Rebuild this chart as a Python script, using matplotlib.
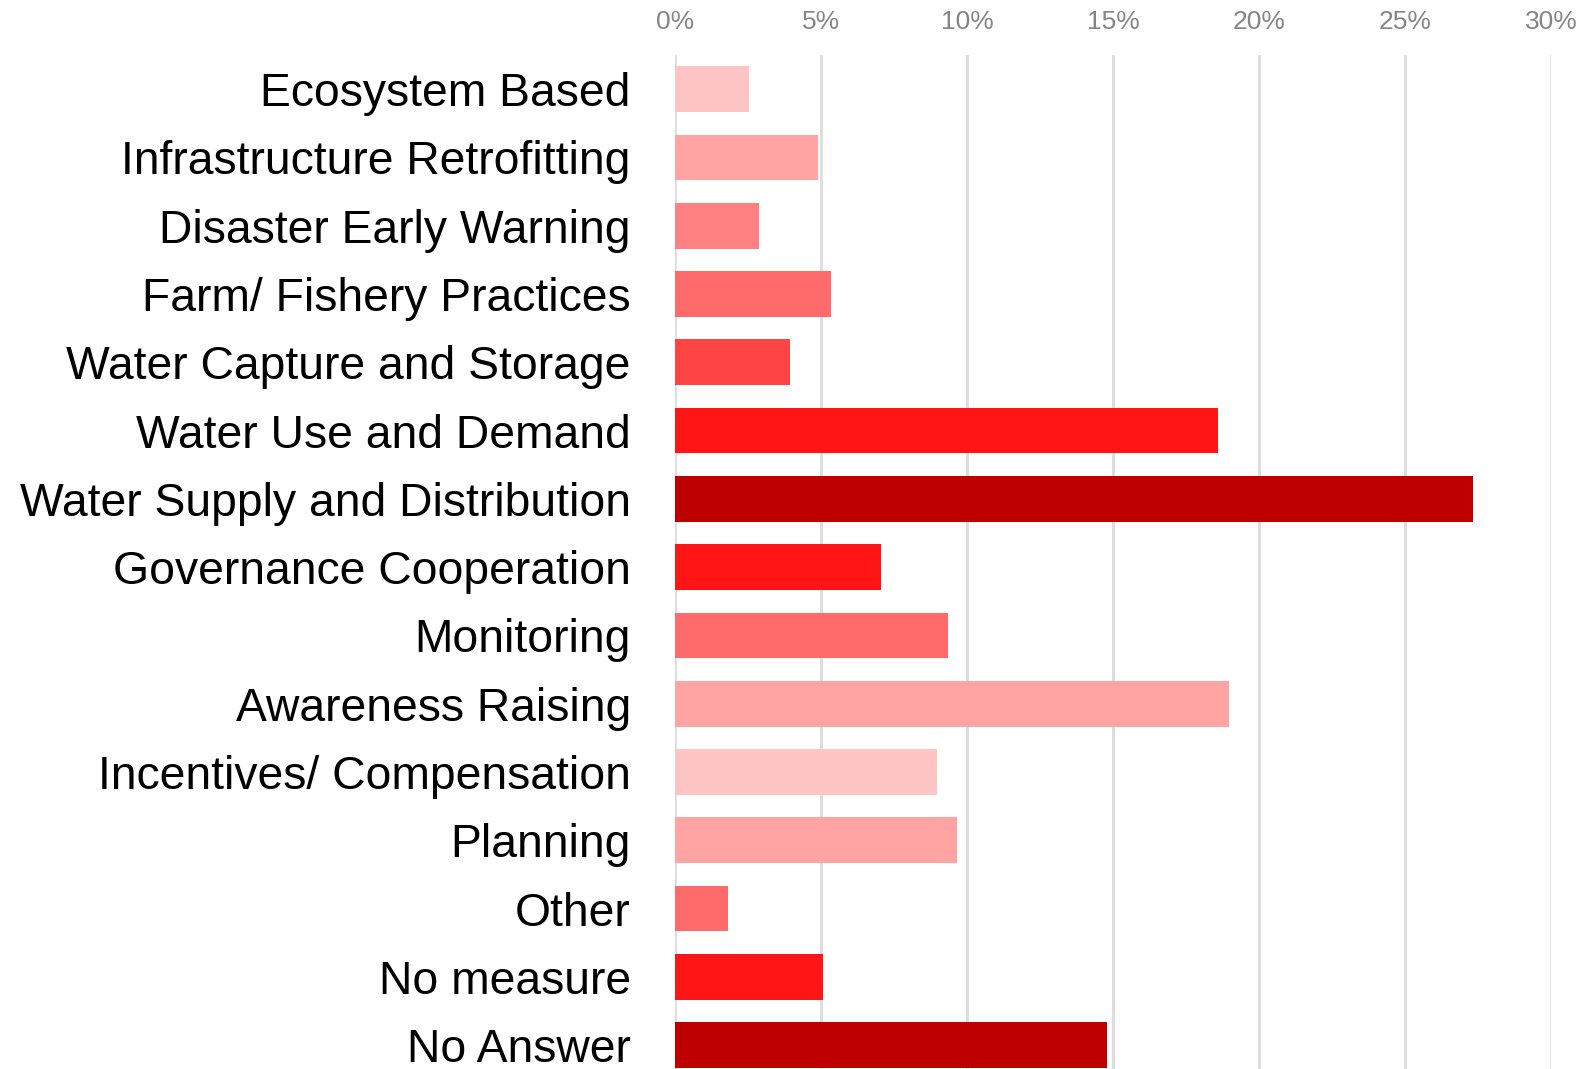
import matplotlib
matplotlib.use("Agg")
import matplotlib.pyplot as plt
from matplotlib.ticker import FuncFormatter

categories = ["Ecosystem Based", "Infrastructure Retrofitting", "Disaster Early Warning",
              "Farm/ Fishery Practices", "Water Capture and Storage", "Water Use and Demand",
              "Water Supply and Distribution", "Governance Cooperation", "Monitoring",
              "Awareness Raising", "Incentives/ Compensation", "Planning", "Other",
              "No measure", "No Answer"]
values = [2.52, 4.89, 2.87, 5.33, 3.93, 18.58, 27.33, 7.05, 9.34, 18.96, 8.96, 9.65, 1.80, 5.05, 14.79]
colors = ["#FFC5C5", "#FFA3A3", "#FF8080", "#FF6B6B", "#FF4444", "#FF1515", "#BE0000",
          "#FF1515", "#FF6B6B", "#FFA3A3", "#FFC5C5", "#FFA3A3", "#FF6B6B", "#FF1515", "#BE0000"]
xticks = [0, 5, 10, 15, 20, 25, 30]

plt.rcParams["font.family"] = ["Liberation Sans", "DejaVu Sans"]

fig = plt.figure(figsize=(15.9, 10.69), dpi=100)
ax = fig.add_axes([675.3 / 1590, 0, (1551 - 675.3) / 1590, 1 - 55 / 1069])
ypos = list(range(len(categories)))
ax.barh(ypos, values, height=0.67, color=colors, zorder=3)
ax.set_xlim(0, 30)
ax.set_ylim(14.35, -0.5)
ax.set_xticks(xticks)
ax.xaxis.set_major_formatter(FuncFormatter(lambda v, p: f"{v:.0f}%"))
ax.xaxis.tick_top()
ax.tick_params(axis="x", length=0, pad=15, labelsize=19, labelcolor="#858585")
ax.set_yticks(ypos)
ax.set_yticklabels(categories)
ax.tick_params(axis="y", length=0, pad=32, labelsize=33.3, labelcolor="black")
ax.grid(axis="x", color="#DCDCDC", linewidth=2, zorder=0)
for s in ax.spines.values():
    s.set_visible(False)
fig.savefig("out.png", dpi=100, facecolor="white")
